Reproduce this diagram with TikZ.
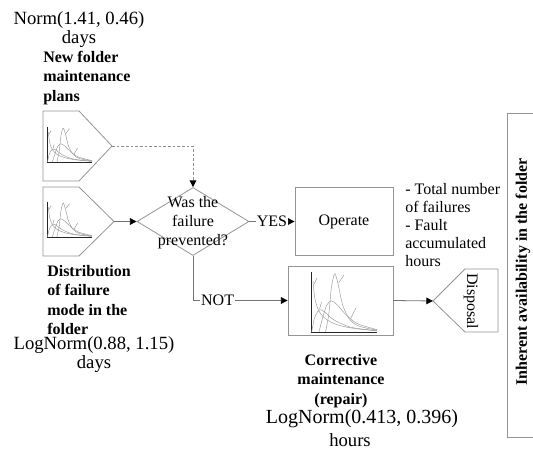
\documentclass[tikz,border=0pt]{standalone}
\usepackage{fontspec}
\setmainfont{Liberation Serif}
\usetikzlibrary{arrows.meta,shapes.geometric}

% small density chart drawn in a unit square (origin at the axes corner)
\newcommand{\distcurves}{%
  \draw[axis] (0,1) -- (0,0) -- (1,0);
  \draw[curve] plot[smooth] coordinates {(0.22,0) (0.27,0.3) (0.31,0.75) (0.36,0.97) (0.41,0.8) (0.48,0.45) (0.58,0.22) (0.72,0.1) (1,0.03)};
  \draw[curve] plot[smooth] coordinates {(0.12,0) (0.18,0.25) (0.24,0.45) (0.31,0.52) (0.40,0.45) (0.52,0.3) (0.7,0.14) (1,0.04)};
  \draw[curve] plot[smooth] coordinates {(0.03,0.85) (0.06,0.55) (0.12,0.35) (0.22,0.22) (0.4,0.12) (0.65,0.06) (1,0.02)};
  \draw[curve] plot[smooth] coordinates {(0.01,0) (0.05,0.22) (0.1,0.34) (0.15,0.37) (0.22,0.32) (0.35,0.2) (0.6,0.08) (1,0.02)};
  % leader strokes of the curve tags
  \draw[curve] (0.09,0.9) -- (0.05,0.8);
  \draw[curve] (0.5,0.95) -- (0.42,0.82);
  \draw[curve] (0.16,0.5) -- (0.13,0.38);
  \draw[curve] (0.68,0.4) -- (0.6,0.22);
}

\begin{document}
\begin{tikzpicture}[x=0.75pt,y=-0.75pt,
  outline/.style={draw=black!42, line width=0.6pt},
  link/.style={draw=black!55, line width=0.6pt,
    -{Triangle[length=5pt,width=5pt,color=black]}},
  curve/.style={draw=black!40, line width=0.35pt},
  axis/.style={draw=black!85, line width=0.5pt},
  body/.style={font=\fontsize{12}{14.25}\selectfont, inner sep=0pt},
  head/.style={font=\bfseries\fontsize{12}{14.5}\selectfont, inner sep=0pt},
  param/.style={font=\fontsize{14}{14.5}\selectfont, inner sep=0pt, align=center}
]
\clip (0,0) rectangle (533,453);

% ---- input distributions (pentagons) ----
\draw[outline] (43,111) -- (79,111) -- (112,146) -- (79,181) -- (43,181) -- cycle;
\coordinate (p1) at (112,146);
\draw[outline] (43,187) -- (79,187) -- (114,221.5) -- (79,256) -- (43,256) -- cycle;
\coordinate (p2) at (114,221.5);

\begin{scope}[shift={(47,162)}, xscale=45, yscale=-35]
  \distcurves
\end{scope}
\begin{scope}[shift={(47,237)}, xscale=45, yscale=-35]
  \distcurves
\end{scope}

% ---- decision ----
\node[diamond, outline, minimum width=84pt, minimum height=51pt, inner sep=0pt] (q) at (193,221.5) {};
\node[body, align=center, anchor=north] (qtext) at (193,196) {Was the\\failure\\prevented?};

% ---- outcomes ----
\node[rectangle, outline, minimum width=73.5pt, minimum height=51pt, body] (op) at (344,221.5) {Operate};
\node[rectangle, outline, minimum width=78.75pt, minimum height=51.75pt] (corr) at (340.5,300.5) {};
\begin{scope}[shift={(311,332)}, xscale=66, yscale=-60]
  \distcurves
\end{scope}

% ---- disposal ----
\draw[outline] (433,301) -- (465,269) -- (498,269) -- (498,332) -- (465,332) -- cycle;
\coordinate (dtip) at (433,301);
\node[body, rotate=-90] (disp) at (471,301) {Disposal};

% ---- availability frame ----
\draw[outline] (507,113) rectangle (560,437);
\node[head, rotate=90] (avail) at (523,272) {Inherent availability in the folder};

% ---- connectors ----
\draw[link, dash pattern=on 2pt off 1.5pt, draw=black!45] (p1) -| (q.north);
\draw[link] (p2) -- (q.west);
\draw[link] (q.east) -- node[body, fill=white, inner sep=0.6pt] (yes) {YES} (op.west);
\draw[link] (q.south) |- node[body, fill=white, inner sep=0.6pt, pos=0.63] (no) {NOT} (corr.west);
\draw[link] (corr.east) -- (dtip);

% ---- labels ----
\node[param, anchor=north] (n1) at (79,11) {Norm(1.41, 0.46)\\days};
\node[head, align=left, anchor=north west] (l1) at (43,51) {New folder\\maintenance\\plans};
\node[head, align=left, anchor=north west] (l2) at (47,265) {Distribution\\of failure\\mode in the\\folder};
\node[param, anchor=north] (n2) at (94,336) {LogNorm(0.88, 1.15)\\days};
\node[head, align=center, anchor=north] (l3) at (341,354) {Corrective\\maintenance\\(repair)};
\node[inner sep=0pt, font=\fontsize{15}{16}\selectfont, anchor=base] (n3) at (362,423) {LogNorm(0.413, 0.396)};
\node[inner sep=0pt, font=\fontsize{14}{16}\selectfont, anchor=base] (n4) at (350,446) {hours};
\node[body, align=left, anchor=north west, font=\fontsize{12}{13.5}\selectfont] (stats) at (405,183) {- Total number\\of failures\\- Fault\\accumulated\\hours};
\end{tikzpicture}
\end{document}
